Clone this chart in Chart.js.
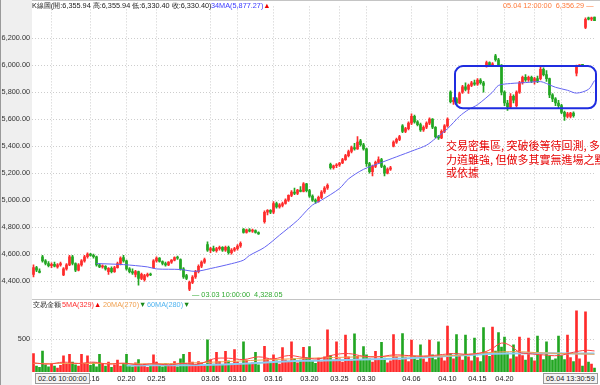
<!DOCTYPE html>
<html>
<head>
<meta charset="utf-8">
<script src="https://cdn.jsdelivr.net/npm/chart.js@4.4.0/dist/chart.umd.min.js"></script>
<style>
  body { margin:0; width:600px; height:385px; overflow:hidden; position:relative; background:#fff;
         font-family:"Liberation Sans", Arial, sans-serif; }
  .abs { position:absolute; white-space:pre; line-height:1; }
  .small { font-size:7.3px; }
  #leftStrip { left:0; top:0; width:32px; height:385px; background:#efefef; border-left:1px solid #9a9a9a; box-sizing:border-box; }
  #price { position:absolute; left:0; top:0; }
  #vol { position:absolute; left:0; top:298px; }
  .sep { position:absolute; left:32px; width:568px; height:0; border-top:1px solid #c4c4c4; }
  .tag { position:absolute; font-size:7.3px; color:#222; background:#f4f4f4; border:1px solid #9a9a9a;
         line-height:9px; padding:0 2px; white-space:pre; }
  #note { left:446px; top:139px; font-family:"Noto Sans CJK TC", sans-serif; font-size:11px; line-height:13.5px; color:#e60000; }
</style>
</head>
<body>
<div id="leftStrip" class="abs"></div>
<canvas id="price" width="600" height="300"></canvas>
<canvas id="vol" width="600" height="87"></canvas>
<div class="sep" style="top:0"></div>
<div class="sep" style="top:299px"></div>

<div class="abs small" style="left:32px;top:2px;color:#222">K線圖(開:6,355.94 高:6,355.94 低:6,330.40 收:6,330.40)</div>
<div class="abs small" style="left:211px;top:2px;color:#3a3aff">34MA(5,877.27)<span style="color:#e00">▲</span></div>
<div class="abs small" style="left:503px;top:2px;color:#ff7a3a">05.04 12:00:00  6,356.29 —</div>

<div class="abs small" style="left:33px;top:301px;color:#222">交易金额</div>
<div class="abs small" style="left:62px;top:301px;color:#ff3030">5MA(329)<span style="color:#e00">▲</span></div>
<div class="abs small" style="left:103px;top:301px;color:#f0a050">20MA(270)<span style="color:#1a8a1a">▼</span></div>
<div class="abs small" style="left:147px;top:301px;color:#50b4f0">60MA(280)<span style="color:#1a8a1a">▼</span></div>

<div class="abs small" style="left:192px;top:291px;color:#33aa33">— 03.03 10:00:00  4,328.05</div>

<div id="note" class="abs">交易密集區, 突破後等待回測, 多方
力道雖強, 但做多其實無進場之點
或依據</div>

<div class="tag" style="left:35px;top:373px">02.06 10:00:00</div>
<div class="tag" style="left:543px;top:373px">05.04 13:30:59</div>

<script>
// K 線 [開, 高, 低, 收]
const candles = [
  [4450,4520,4430,4500],[4500,4510,4470,4480],[4475,4490,4460,4465],[4580,4590,4540,4550],[4550,4560,4520,4530],
  [4530,4545,4505,4515],[4515,4535,4500,4525],[4525,4540,4505,4510],[4505,4530,4495,4520],[4520,4540,4510,4530],
  [4445,4500,4440,4490],[4490,4530,4480,4520],[4520,4590,4515,4580],[4580,4590,4520,4530],[4530,4535,4470,4480],
  [4480,4530,4475,4520],[4520,4560,4510,4550],[4550,4590,4540,4580],[4580,4610,4570,4600],[4600,4605,4585,4590],
  [4590,4600,4570,4580],[4580,4585,4510,4520],[4520,4530,4500,4505],[4505,4520,4495,4510],[4510,4515,4480,4490],
  [4470,4500,4450,4495],[4495,4505,4460,4470],[4470,4510,4465,4500],[4500,4540,4495,4530],[4530,4580,4520,4570],
  [4575,4590,4540,4550],[4550,4555,4480,4490],[4490,4500,4460,4470],[4470,4490,4450,4460],[4450,4480,4430,4470],
  [4470,4475,4370,4420],[4420,4460,4410,4450],[4410,4450,4400,4440],[4440,4460,4430,4450],[4450,4460,4440,4445],
  [4500,4560,4495,4550],[4550,4580,4540,4570],[4570,4575,4540,4545],[4545,4550,4520,4530],[4530,4540,4510,4520],
  [4520,4545,4515,4540],[4540,4560,4530,4555],[4555,4580,4550,4575],[4575,4585,4560,4570],[4560,4565,4480,4490],
  [4490,4500,4420,4430],[4440,4450,4410,4420],[4340,4400,4328.05,4390],[4390,4440,4380,4430],[4430,4480,4420,4470],
  [4470,4520,4460,4510],[4510,4550,4500,4540],[4540,4570,4530,4560],[4670,4690,4620,4630],[4630,4650,4610,4640],
  [4640,4660,4620,4625],[4625,4650,4615,4640],[4640,4660,4630,4650],[4650,4655,4620,4630],[4630,4660,4620,4650],
  [4650,4660,4600,4610],[4610,4640,4600,4630],[4630,4650,4620,4640],[4640,4670,4630,4660],[4660,4690,4650,4680],
  [4785,4790,4755,4760],[4760,4785,4755,4780],[4780,4790,4765,4770],[4770,4785,4760,4775],[4775,4780,4755,4760],
  [4760,4765,4745,4750],null,[4840,4920,4830,4910],[4910,4930,4890,4925],[4925,4930,4900,4910],
  [4910,4990,4900,4975],[4975,4985,4940,4950],[4950,4975,4940,4965],[4960,4985,4950,4975],[4975,5010,4970,5000],
  [5000,5040,4990,5035],[5035,5070,5025,5060],[5060,5090,5040,5050],[5050,5080,5040,5075],[5075,5100,5060,5065],
  [5065,5130,5060,5120],[5120,5125,5060,5070],[5070,5080,5020,5030],[5030,5040,4990,5000],[5000,5010,4975,4990],
  [4990,5030,4985,5020],[5020,5070,5010,5060],[5060,5100,5050,5090],[5090,5120,5080,5110],[5265,5275,5230,5240],
  [5240,5260,5230,5255],[5255,5270,5240,5260],[5260,5280,5250,5275],[5275,5310,5270,5300],[5300,5340,5295,5330],
  [5330,5370,5320,5360],[5360,5400,5350,5390],[5390,5420,5370,5380],[5380,5470,5375,5430],[5440,5450,5400,5410],
  [5410,5420,5370,5380],[5380,5385,5250,5270],[5270,5280,5200,5210],[5210,5260,5180,5250],[5250,5290,5240,5280],
  [5280,5320,5270,5300],[5300,5310,5240,5250],[5250,5260,5180,5200],[5200,5240,5195,5230],[5230,5250,5220,5240],
  [5400,5440,5395,5430],[5430,5460,5420,5450],[5450,5480,5440,5470],[5550,5560,5500,5510],[5510,5540,5500,5530],
  [5530,5580,5520,5570],[5570,5640,5560,5620],[5620,5630,5570,5580],[5580,5590,5550,5560],[5560,5570,5510,5520],
  [5520,5550,5510,5540],[5540,5580,5530,5570],[5570,5610,5560,5600],[5600,5605,5530,5540],[5540,5545,5460,5470],
  [5470,5480,5450,5460],[5460,5520,5455,5510],[5510,5560,5500,5550],[5550,5610,5540,5600],[5800,5810,5720,5730],
  [5730,5760,5710,5740],[5750,5760,5710,5720],[5720,5800,5715,5790],[5800,5850,5790,5840],[5840,5870,5810,5820],
  [5820,5860,5790,5850],[5850,5880,5840,5870],[5870,5890,5850,5860],[5860,5900,5850,5890],[5890,5900,5860,5870],
  [5870,5880,5800,5850],[5990,6030,5985,6020],[6020,6025,5990,6000],[5995,6020,5990,6010],[6070,6080,6030,6040],
  [6040,6050,5990,6000],[6000,6005,5780,5800],[5800,5810,5700,5720],[5720,5740,5664,5690],[5690,5790,5680,5770],
  [5770,5780,5720,5740],[5700,5810,5690,5800],[5800,5880,5790,5870],[5870,5920,5860,5910],[5910,5930,5880,5890],
  [5890,5920,5880,5910],[5910,5920,5870,5880],[5880,5910,5860,5900],[5900,5920,5870,5880],[5900,5990,5890,5970],
  [5970,5980,5920,5930],[5930,5960,5880,5900],[5900,5905,5760,5780],[5780,5790,5730,5750],[5750,5760,5700,5720],
  [5720,5740,5680,5700],[5700,5710,5640,5650],[5650,5660,5590,5620],[5620,5650,5610,5640],[5620,5650,5610,5645],
  [5645,5655,5615,5625],[5940,6000,5920,5995],[5995,6005,5990,6000],[6000,6005,5995,5998],[6280,6350,6270,6340],
  [6350,6356.29,6335,6340],[6340,6356,6330,6350],[6355.94,6355.94,6330.40,6330.40]
];

// 交易金額
const volumes = [
  280,90,70,320,110,80,130,90,60,100, 245,120,270,150,110,90,270,130,245,100,
  140,80,270,120,90,150,70,110,180,90, 130,270,100,80,140,190,90,120,70,100,
  260,150,110,80,130,90,120,160,80,200, 270,120,300,150,110,160,130,100,490,180,
  120,300,160,110,315,170,120,340,150,130, 460,180,120,140,300,110,null,390,200,140,
  260,170,120,370,180,150,460,200,140,180, 375,220,385,170,130,210,160,230,640,250,
  180,460,200,150,560,230,170,580,240,180, 385,260,200,150,315,180,450,210,140,170,
  570,230,180,585,220,160,485,240,180,415, 200,150,485,260,190,460,220,170,700,280,
  200,570,240,180,560,230,170,515,220,160, 675,300,240,685,320,600,380,530,290,200,
  415,230,530,250,180,515,220,170,545,260, 190,460,240,180,200,545,250,190,560,220,
  160,930,200,90,915,150,120,60
];

// 34MA (K 線索引, 值)
const maIdx = [21,30,38,41,49,54,59,66,70,72,77,82,88,91,93,96,102,105,110,116,121,127,131,134,138,142,145,148,153,155,159,164,169,171,174,178,181,185,187];
const maVal = [4530,4522,4505,4490,4486,4472,4493,4529,4555,4590,4650,4740,4850,4921,4964,5000,5086,5157,5228,5279,5321,5371,5407,5457,5529,5621,5671,5707,5800,5850,5864,5871,5878,5864,5836,5814,5793,5821,5886];

// 金額均線
const vma5Idx = [0,5,10,15,20,25,30,35,40,45,50,55,60,65,70,75,80,85,90,95,100,105,110,115,120,125,130,135,140,145,150,153,156,159,162,165,170,175,180,184,187];
const vma5Val = [140,120,150,130,150,120,135,110,125,110,130,120,200,210,190,230,200,250,220,200,260,280,240,230,260,250,240,260,280,270,300,360,440,400,300,280,260,250,300,330,320];
const vma20Idx = [0,20,40,60,80,100,120,140,150,160,170,187];
const vma20Val = [130,130,125,150,190,220,240,250,290,310,290,270];
const vma60Idx = [31,60,90,120,150,170,187];
const vma60Val = [100,110,170,200,270,285,280];

const yTicks = [4400,4600,4800,5000,5200,5400,5600,5800,6000,6200];
const volTicks = [500];
const tickIdx = [6,19,31,41,59,68,80,92,102,111,126,138,148,157,167,176];
const tickText = ['','02.16','02.20','02.25','03.05','03.10','03.16','03.20','03.25','03.30','04.06','04.10','04.15','04.20','',''];

// 交易密集區框 (索引, 價格)
const boxIdx = [141, 187];
const boxPrice = [5680, 5993];

const N = candles.length;
const labels = candles.map((c, i) => i);
const UP = '#ff2b2b', DN = '#22a622';
const colors = candles.map(c => c ? (c[3] >= c[0] ? UP : DN) : 'rgba(0,0,0,0)');

function sparse(idx, val) {
  const a = new Array(N).fill(null);
  idx.forEach((k, j) => a[k] = val[j]);
  return a;
}

const gridColor = '#cdcdcd';
const xScale = (showTicks) => ({
  offset: true,
  grid: { offset: false, color: gridColor, drawTicks: false },
  border: { display: false, dash: [1, 2] },
  ticks: { display: showTicks, autoSkip: false, maxRotation: 0, color: '#222', font: { size: 7.3 }, padding: 3,
           callback: v => tickText[tickIdx.indexOf(v)] },
  afterBuildTicks: s => { s.ticks = tickIdx.map(v => ({ value: v })); },
  afterFit: s => { s.height = showTicks ? 13 : 0; }
});

const boxPlugin = {
  id: 'box',
  afterDatasetsDraw(chart) {
    const { ctx, scales: { x, y } } = chart;
    const half = (x.getPixelForValue(1) - x.getPixelForValue(0)) / 2;
    const l = x.getPixelForValue(boxIdx[0]) - half, r = x.getPixelForValue(boxIdx[1]) + half;
    const t = y.getPixelForValue(boxPrice[1]), b = y.getPixelForValue(boxPrice[0]);
    ctx.save();
    ctx.strokeStyle = '#1f2de0';
    ctx.lineWidth = 2;
    ctx.beginPath();
    ctx.roundRect(l, t, r - l, b - t, 8);
    ctx.stroke();
    ctx.restore();
  }
};

// 價格
new Chart(document.getElementById('price'), {
  type: 'bar',
  data: {
    labels,
    datasets: [
      { type: 'line', data: sparse(maIdx, maVal), borderColor: '#6464f2', borderWidth: 1, pointRadius: 0, spanGaps: true, tension: 0.3, order: 0 },
      { data: candles.map(c => c && [c[2], c[1]]), backgroundColor: colors, barThickness: 1, grouped: false, order: 2 },
      { data: candles.map(c => c && [c[0], c[3]]), backgroundColor: colors, barThickness: 2, minBarLength: 1, grouped: false, order: 1 }
    ]
  },
  options: {
    animation: false, responsive: false, events: [],
    layout: { padding: { left: 0, right: 4, top: 1, bottom: 1 } },
    plugins: { legend: { display: false }, tooltip: { enabled: false } },
    scales: {
      x: xScale(false),
      y: {
        min: 4307.1, max: 6435.7,
        afterBuildTicks: s => { s.ticks = yTicks.map(v => ({ value: v })); },
        afterFit: s => { s.width = 32; },
        ticks: { color: '#333', font: { size: 7.3 }, padding: 2,
                 callback: v => v.toLocaleString('en-US', { minimumFractionDigits: 2, maximumFractionDigits: 2 }) },
        grid: { color: gridColor, drawTicks: false },
        border: { display: false, dash: [1, 2] }
      }
    }
  },
  plugins: [boxPlugin]
});

// 交易金額
new Chart(document.getElementById('vol'), {
  type: 'bar',
  data: {
    labels,
    datasets: [
      { type: 'line', data: sparse(vma5Idx, vma5Val), borderColor: '#ff4040', borderWidth: 1, pointRadius: 0, spanGaps: true, tension: 0.4, order: 0 },
      { type: 'line', data: sparse(vma20Idx, vma20Val), borderColor: '#f0a050', borderWidth: 1, pointRadius: 0, spanGaps: true, tension: 0.4, order: 0 },
      { type: 'line', data: sparse(vma60Idx, vma60Val), borderColor: '#8cccf2', borderWidth: 2, pointRadius: 0, spanGaps: true, tension: 0.4, order: 0 },
      { data: volumes, backgroundColor: colors, barThickness: 2, order: 1 }
    ]
  },
  options: {
    animation: false, responsive: false, events: [],
    layout: { padding: { left: 0, right: 4, top: 2, bottom: 0 } },
    plugins: { legend: { display: false }, tooltip: { enabled: false } },
    scales: {
      x: xScale(true),
      y: {
        min: 0, max: 1028.6,
        afterBuildTicks: s => { s.ticks = volTicks.map(v => ({ value: v })); },
        afterFit: s => { s.width = 32; },
        ticks: { color: '#333', font: { size: 7.3 }, padding: 2 },
        grid: { color: gridColor, drawTicks: false },
        border: { display: false, dash: [1, 2] }
      }
    }
  }
});
</script>
</body>
</html>
